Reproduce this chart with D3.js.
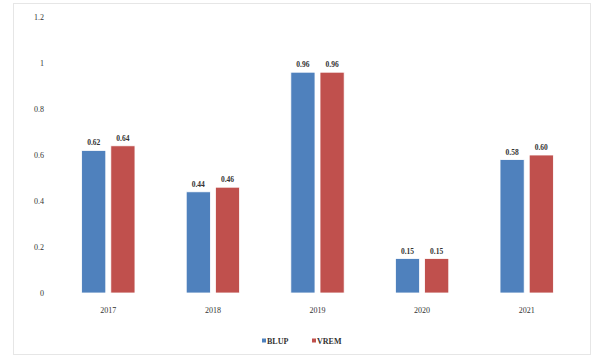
<!DOCTYPE html>
<html>
<head>
<meta charset="utf-8">
<script src="https://cdn.jsdelivr.net/npm/d3@7"></script>
<style>
  html, body { margin: 0; padding: 0; background: #fff; }
  svg { display: block; }
  text { font-family: "Liberation Serif", "DejaVu Serif", serif; fill: #333; }
</style>
</head>
<body>
<svg id="chart" width="592" height="357"></svg>
<script>
// Yearly values for the two series
const years = ["2017", "2018", "2019", "2020", "2021"];
const blupValues = [0.62, 0.44, 0.96, 0.15, 0.58];
const vremValues = [0.64, 0.46, 0.96, 0.15, 0.60];
const seriesNames = ["BLUP", "VREM"];
const seriesColors = ["#4F81BD", "#C0504D"];
const yTicks = [0, 0.2, 0.4, 0.6, 0.8, 1, 1.2];

const svg = d3.select("#chart");
const W = 592, H = 357;
const margin = { top: 17, right: 13, bottom: 64, left: 56 };

// outer frame
svg.append("rect")
  .attr("x", 13.5).attr("y", 3.5)
  .attr("width", W - 15).attr("height", H - 6)
  .attr("fill", "#fff").attr("stroke", "#e6e6e6");

const x = d3.scaleBand()
  .domain(years)
  .range([margin.left, W - margin.right])
  .paddingInner(0.49).paddingOuter(0.245);

const x1 = d3.scaleBand()
  .domain(seriesNames)
  .range([0, x.bandwidth()])
  .paddingInner(0.172);

const y = d3.scaleLinear()
  .domain([0, 1.2])
  .range([H - margin.bottom, margin.top]);

// y axis labels
const yAxis = d3.axisLeft(y)
  .tickValues(yTicks)
  .tickSize(0)
  .tickPadding(0)
  .tickFormat(d => d3.format("~g")(d));

svg.append("g")
  .attr("transform", `translate(${margin.left - 12},0)`)
  .call(yAxis)
  .call(g => g.select(".domain").remove())
  .selectAll("text")
  .attr("font-size", 8)
  .attr("fill", "#555");

// x axis labels
const xAxis = d3.axisBottom(x).tickSize(0).tickPadding(14);
svg.append("g")
  .attr("transform", `translate(0,${y(0)})`)
  .call(xAxis)
  .call(g => g.select(".domain").remove())
  .selectAll("text")
  .attr("font-size", 8)
  .attr("fill", "#555");

const rows = years.map((yr, i) => ({
  year: yr,
  vals: [
    { name: seriesNames[0], v: blupValues[i], c: seriesColors[0] },
    { name: seriesNames[1], v: vremValues[i], c: seriesColors[1] }
  ]
}));

const groups = svg.append("g").selectAll("g")
  .data(rows).join("g")
  .attr("transform", d => `translate(${x(d.year)},0)`);

groups.selectAll("rect")
  .data(d => d.vals).join("rect")
  .attr("x", d => x1(d.name))
  .attr("y", d => y(d.v))
  .attr("width", x1.bandwidth())
  .attr("height", d => y(0) - y(d.v))
  .attr("fill", d => d.c)
  .attr("stroke", "#fff")
  .attr("stroke-width", 0.8);

groups.selectAll("text.val")
  .data(d => d.vals).join("text")
  .attr("class", "val")
  .attr("x", d => x1(d.name) + x1.bandwidth() / 2)
  .attr("y", d => y(d.v) - 5)
  .attr("text-anchor", "middle")
  .attr("font-size", 7.5)
  .attr("font-weight", "bold")
  .attr("fill", "#444")
  .text(d => d3.format(".2f")(d.v));

// legend
const legend = svg.append("g").attr("transform", "translate(262,341)");
const items = legend.selectAll("g")
  .data(seriesNames).join("g")
  .attr("transform", (d, i) => `translate(${i * 50},0)`);
items.append("rect")
  .attr("x", 0).attr("y", -2.5)
  .attr("width", 4).attr("height", 4)
  .attr("fill", (d, i) => seriesColors[i]);
items.append("text")
  .attr("x", 5).attr("y", 2.5)
  .attr("font-size", 8)
  .attr("font-weight", "bold")
  .attr("fill", "#555")
  .text(d => d);
</script>
</body>
</html>
